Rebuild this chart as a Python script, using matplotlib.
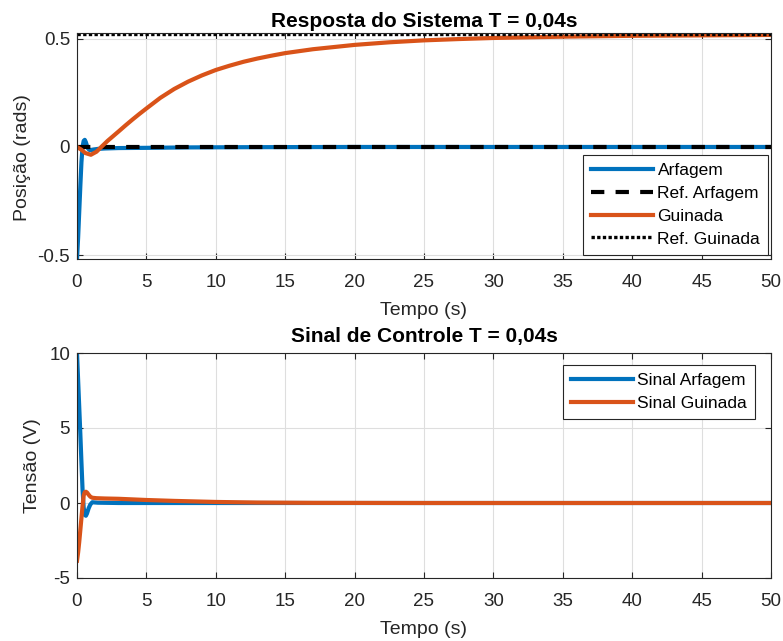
import matplotlib
matplotlib.use("Agg")
import matplotlib.pyplot as plt

plt.rcParams['font.family'] = ['Liberation Sans', 'DejaVu Sans']
plt.rcParams['axes.unicode_minus'] = False

# ---- data ----
t_ref = [0, 50]
ref_arfagem = [0.0, 0.0]
ref_guinada = [0.5236, 0.5236]

t_arf = [0, 0.08, 0.16, 0.24, 0.32, 0.40, 0.48, 0.56, 0.64, 0.72, 0.80, 0.90,
         1.0, 1.2, 1.5, 2.0, 3.0, 5.0, 8.0, 12.0, 20.0, 50.0]
arfagem = [-0.518, -0.42, -0.30, -0.18, -0.07, 0.0, 0.028, 0.033, 0.022, 0.005,
           -0.008, -0.014, -0.015, -0.012, -0.009, -0.007, -0.005, -0.004,
           -0.002, -0.001, 0.0, 0.0]

t_gui = [0, 0.3, 0.6, 1.0, 1.4, 1.75, 2.2, 2.6, 3.0, 3.5, 4.0, 4.5, 5, 6, 7, 8, 9,
         10, 11, 12, 13, 14, 15, 17, 20, 22.5, 25, 27.5, 30, 35, 40, 45, 50]
guinada = [0.0, -0.012, -0.028, -0.036, -0.022, 0.0, 0.028, 0.050, 0.072,
           0.100, 0.127, 0.153, 0.178, 0.227, 0.268, 0.302, 0.331, 0.356, 0.376,
           0.394, 0.409, 0.422, 0.434, 0.452, 0.472, 0.484, 0.493, 0.499, 0.504,
           0.510, 0.514, 0.516, 0.518]

t_ua = [0, 0.08, 0.16, 0.24, 0.32, 0.40, 0.48, 0.56, 0.64, 0.72, 0.84, 0.96,
        1.1, 1.5, 3.0, 50.0]
sinal_arfagem = [10.0, 8.2, 6.4, 4.6, 2.7, 0.9, -0.3, -0.8, -0.85, -0.7, -0.35,
                 -0.1, 0.05, 0.02, 0.0, 0.0]

t_ug = [0, 0.08, 0.16, 0.24, 0.32, 0.40, 0.48, 0.56, 0.64, 0.72, 0.84, 0.96,
        1.1, 1.4, 2.0, 3.0, 4.0, 5.0, 7.0, 10.0, 13.0, 17.0, 25.0, 50.0]
sinal_guinada = [-3.85, -3.3, -2.6, -1.8, -1.0, -0.2, 0.5, 0.72, 0.75, 0.7,
                 0.55, 0.42, 0.35, 0.32, 0.30, 0.28, 0.24, 0.20, 0.14, 0.07,
                 0.03, 0.01, 0.0, 0.0]

xticks = list(range(0, 51, 5))
yticks_top = [-0.5, 0, 0.5]
yticks_bot = [-5, 0, 5, 10]

BLUE = '#0072BD'
ORANGE = '#D95319'
DARK = '#262626'

W, H = 783, 641
fig = plt.figure(figsize=(W / 100, H / 100), dpi=100)

def px_axes(l, t, r, b):
    return fig.add_axes([l / W, 1 - b / H, (r - l) / W, (b - t) / H])

ax1 = px_axes(77, 33, 771, 259)
ax2 = px_axes(77, 353, 771, 578)

def style(ax):
    ax.grid(True, color='#dedede', linewidth=0.8)
    ax.set_axisbelow(True)
    for s in ax.spines.values():
        s.set_color(DARK)
        s.set_linewidth(0.8)
    ax.tick_params(direction='in', top=True, right=True, length=4,
                   width=0.8, color=DARK, labelsize=13.5, labelcolor=DARK)
    ax.tick_params(axis='x', pad=10.5)
    ax.tick_params(axis='y', pad=5)
    ax.set_xticks(xticks)
    ax.set_xlim(0, 50)

leg_kw = dict(loc='upper left', bbox_transform=fig.transFigure,
              borderaxespad=0, fontsize=12.5, handlelength=3.6,
              handletextpad=0.23, labelspacing=0.44, borderpad=0.46,
              fancybox=False, framealpha=1, edgecolor=DARK)

# ---- top plot ----
ax1.plot(t_arf, arfagem, color=BLUE, lw=3, label='Arfagem')
ax1.plot(t_ref, ref_arfagem, color='black', lw=3, ls=(0, (3.2, 2.7)),
         label='Ref. Arfagem')
ax1.plot(t_gui, guinada, color=ORANGE, lw=3, label='Guinada')
ax1.plot(t_ref, ref_guinada, color='black', lw=2.4, ls=(0, (1, 0.7)),
         label='Ref. Guinada')
style(ax1)
ax1.set_ylim(-0.518, 0.527)
ax1.set_yticks(yticks_top)
ax1.set_yticklabels(['-0.5', '0', '0.5'])
ax1.set_title('Resposta do Sistema T = 0,04s', fontsize=15,
              fontweight='bold', pad=4, color='black')
ax1.set_xlabel('Tempo (s)', fontsize=14, labelpad=8, color=DARK)
ax1.set_ylabel('Posição (rads)', fontsize=14, color=DARK)
ax1.yaxis.set_label_coords(-0.066, 0.45)
leg1 = ax1.legend(bbox_to_anchor=(583 / W, 1 - 155 / H), **leg_kw)
leg1.get_frame().set_linewidth(0.8)

# ---- bottom plot ----
ax2.plot(t_ua, sinal_arfagem, color=BLUE, lw=3, label='Sinal Arfagem')
ax2.plot(t_ug, sinal_guinada, color=ORANGE, lw=3, label='Sinal Guinada')
style(ax2)
ax2.set_ylim(-5, 10)
ax2.set_yticks(yticks_bot)
ax2.set_title('Sinal de Controle T = 0,04s', fontsize=15,
              fontweight='bold', pad=8, color='black')
ax2.set_xlabel('Tempo (s)', fontsize=14, labelpad=8, color=DARK)
ax2.set_ylabel('Tensão (V)', fontsize=14, labelpad=6, color=DARK)
leg2 = ax2.legend(bbox_to_anchor=(563 / W, 1 - 365 / H), **leg_kw)
leg2.get_frame().set_linewidth(0.8)

fig.savefig('out.png', dpi=100)
